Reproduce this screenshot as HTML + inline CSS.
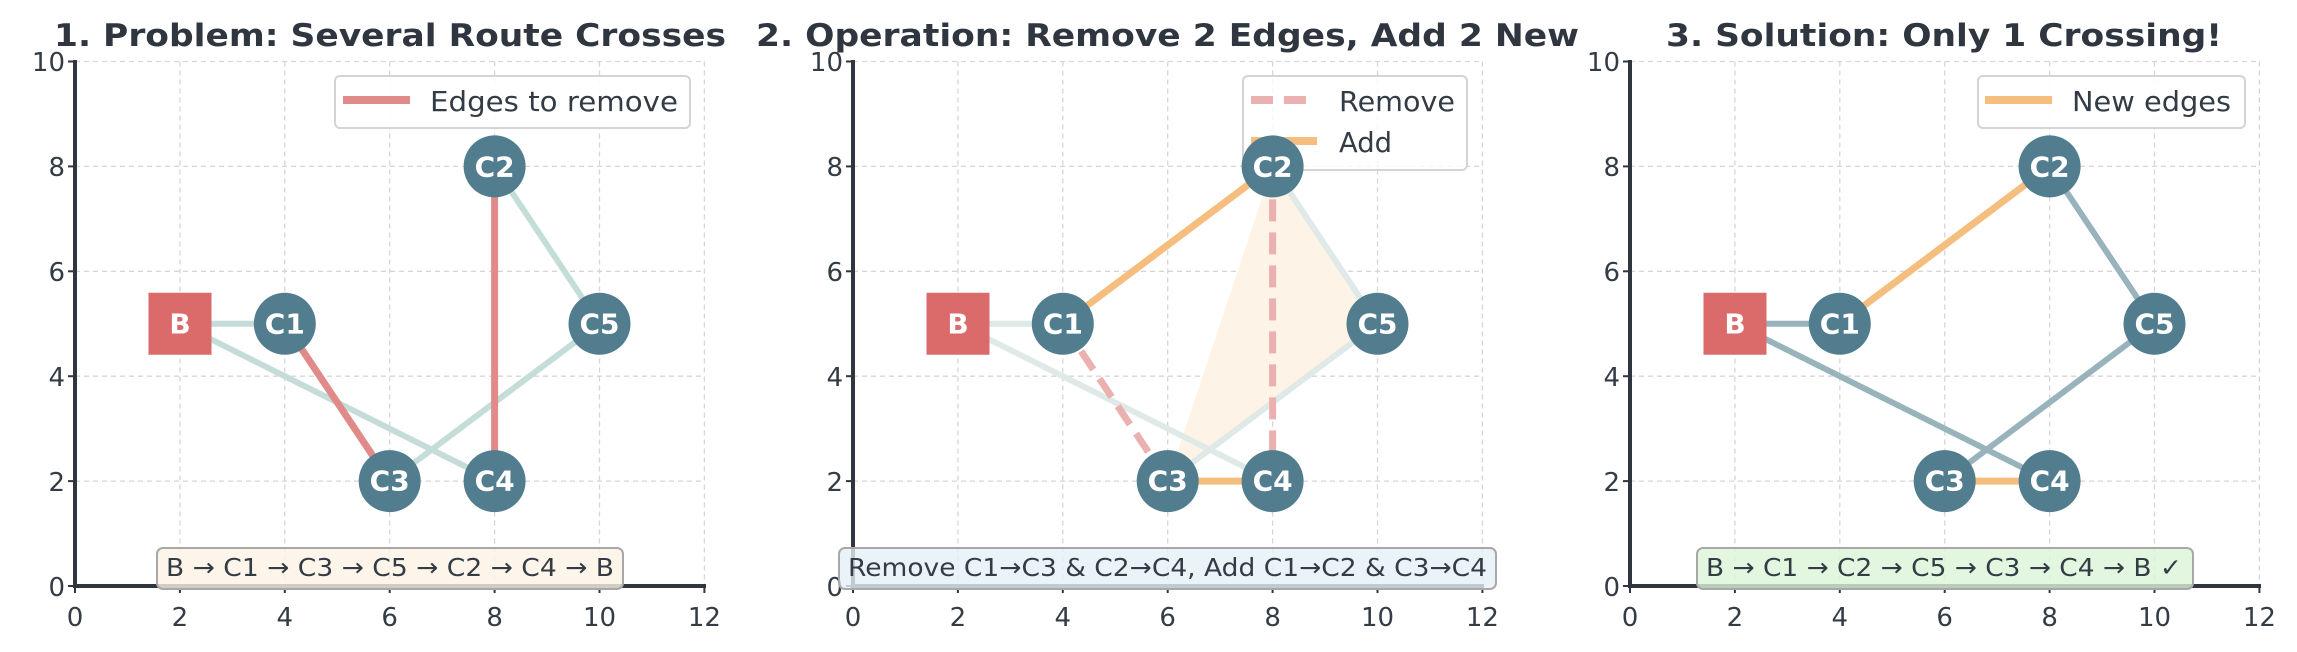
<!DOCTYPE html>
<html><head><meta charset="utf-8"><style>
html,body{margin:0;padding:0;background:#fff;}
svg{display:block;font-family:"DejaVu Sans","Liberation Sans",sans-serif;}
.t{font-weight:bold;font-size:31px;fill:#2f3640;}
.tk{font-size:26px;fill:#333c45;}
.g{stroke:#d6d6d6;stroke-width:1.3;stroke-dasharray:5,4;fill:none;}
.ax{stroke:#2f3640;stroke-width:4;fill:none;}
.tm{stroke:#2f3640;stroke-width:2;}
.nd{fill:#527d8f;}
.nl{font-weight:bold;font-size:28px;fill:#fff;text-anchor:middle;dominant-baseline:central;}
.lg{font-size:28px;fill:#333c45;}
.an{font-size:25px;fill:#333c45;}
</style></head><body>
<svg width="2297" height="652" viewBox="0 0 2297 652" xmlns="http://www.w3.org/2000/svg">
<defs>
<g id="grid">
  <line class="g" x1="104.9" y1="61.5" x2="104.9" y2="586"/>
  <line class="g" x1="209.8" y1="61.5" x2="209.8" y2="586"/>
  <line class="g" x1="314.7" y1="61.5" x2="314.7" y2="586"/>
  <line class="g" x1="419.6" y1="61.5" x2="419.6" y2="586"/>
  <line class="g" x1="524.5" y1="61.5" x2="524.5" y2="586"/>
  <line class="g" x1="629.4" y1="61.5" x2="629.4" y2="586"/>
  <line class="g" x1="0" y1="481.1" x2="629.4" y2="481.1"/>
  <line class="g" x1="0" y1="376.2" x2="629.4" y2="376.2"/>
  <line class="g" x1="0" y1="271.3" x2="629.4" y2="271.3"/>
  <line class="g" x1="0" y1="166.4" x2="629.4" y2="166.4"/>
  <line class="g" x1="0" y1="61.5" x2="629.4" y2="61.5"/>
</g>
<g id="axes">
  <line class="ax" x1="0" y1="60" x2="0" y2="586"/>
  <line class="ax" x1="-2" y1="586" x2="631" y2="586"/>
  <g class="tm">
  <line x1="0" y1="586" x2="0" y2="593"/><line x1="104.9" y1="586" x2="104.9" y2="593"/><line x1="209.8" y1="586" x2="209.8" y2="593"/><line x1="314.7" y1="586" x2="314.7" y2="593"/><line x1="419.6" y1="586" x2="419.6" y2="593"/><line x1="524.5" y1="586" x2="524.5" y2="593"/><line x1="629.4" y1="586" x2="629.4" y2="593"/>
  <line x1="-7" y1="586" x2="0" y2="586"/><line x1="-7" y1="481.1" x2="0" y2="481.1"/><line x1="-7" y1="376.2" x2="0" y2="376.2"/><line x1="-7" y1="271.3" x2="0" y2="271.3"/><line x1="-7" y1="166.4" x2="0" y2="166.4"/><line x1="-7" y1="61.5" x2="0" y2="61.5"/>
  </g>
  <g class="tk" text-anchor="middle">
  <text x="0" y="626">0</text><text x="104.9" y="626">2</text><text x="209.8" y="626">4</text><text x="314.7" y="626">6</text><text x="419.6" y="626">8</text><text x="524.5" y="626">10</text><text x="629.4" y="626">12</text>
  </g>
  <g class="tk" text-anchor="end">
  <text x="-10" y="596">0</text><text x="-10" y="491">2</text><text x="-10" y="386">4</text><text x="-10" y="281">6</text><text x="-10" y="176">8</text><text x="-10" y="71">10</text>
  </g>
</g>
<g id="nodes">
  <rect x="73.5" y="292.75" width="63" height="62" fill="#db6b6b"/>
  <text class="nl" x="105" y="324">B</text>
  <circle class="nd" cx="209.8" cy="323.75" r="31"/><text class="nl" x="209.8" y="324">C1</text>
  <circle class="nd" cx="419.6" cy="166.4" r="31"/><text class="nl" x="419.6" y="167">C2</text>
  <circle class="nd" cx="314.7" cy="481.1" r="31"/><text class="nl" x="314.7" y="481">C3</text>
  <circle class="nd" cx="419.6" cy="481.1" r="31"/><text class="nl" x="419.6" y="481">C4</text>
  <circle class="nd" cx="524.5" cy="323.75" r="31"/><text class="nl" x="524.5" y="324">C5</text>
</g>
</defs>

<text class="t" x="54" y="46" textLength="672" lengthAdjust="spacingAndGlyphs">1. Problem: Several Route Crosses</text>
<text class="t" x="756" y="46" textLength="823" lengthAdjust="spacingAndGlyphs">2. Operation: Remove 2 Edges, Add 2 New</text>
<text class="t" x="1666" y="46" textLength="556" lengthAdjust="spacingAndGlyphs">3. Solution: Only 1 Crossing!</text>

<!-- Panel 1 -->
<g transform="translate(75,0)">
  <use href="#grid"/>
  <g stroke="#c5ddd9" stroke-width="6" fill="none">
    <line x1="104.9" y1="323.75" x2="209.8" y2="323.75"/>
    <line x1="314.7" y1="481.1" x2="524.5" y2="323.75"/>
    <line x1="524.5" y1="323.75" x2="419.6" y2="166.4"/>
    <line x1="419.6" y1="481.1" x2="104.9" y2="323.75"/>
  </g>
  <g stroke="#e08a8a" stroke-width="7">
    <line x1="209.8" y1="323.75" x2="314.7" y2="481.1"/>
    <line x1="419.6" y1="166.4" x2="419.6" y2="481.1"/>
  </g>
  <use href="#nodes"/>
  <rect x="260" y="76" width="355" height="52" rx="5" fill="#fff" fill-opacity="0.9" stroke="#d4d4d4" stroke-width="2"/>
  <line x1="268" y1="100" x2="335" y2="100" stroke="#e08a8a" stroke-width="8"/>
  <text class="lg" x="355" y="111" textLength="248" lengthAdjust="spacingAndGlyphs">Edges to remove</text>
  <use href="#axes"/>
  <rect x="82" y="548" width="466" height="41" rx="6" fill="#fdf3e4" fill-opacity="0.8" stroke="#a8a8a8" stroke-width="2"/>
  <text class="an" x="91" y="576" textLength="448" lengthAdjust="spacingAndGlyphs">B → C1 → C3 → C5 → C2 → C4 → B</text>
</g>

<!-- Panel 2 -->
<g transform="translate(853,0)">
  <use href="#grid"/>
  <polygon points="314.7,481.1 419.6,166.4 524.5,323.75" fill="#fdf3e6"/>
  <g stroke="#dfeae8" stroke-width="6" fill="none">
    <line x1="104.9" y1="323.75" x2="209.8" y2="323.75"/>
    <line x1="314.7" y1="481.1" x2="524.5" y2="323.75"/>
    <line x1="524.5" y1="323.75" x2="419.6" y2="166.4"/>
    <line x1="419.6" y1="481.1" x2="104.9" y2="323.75"/>
  </g>
  <g stroke="#ebb0b0" stroke-width="7" stroke-dasharray="22,11">
    <line x1="209.8" y1="323.75" x2="314.7" y2="481.1"/>
    <line x1="419.6" y1="166.4" x2="419.6" y2="481.1"/>
  </g>
  <g stroke="#f5be7e" stroke-width="7">
    <line x1="209.8" y1="323.75" x2="419.6" y2="166.4"/>
    <line x1="314.7" y1="481.1" x2="419.6" y2="481.1"/>
  </g>
  <rect x="390" y="76" width="224" height="94" rx="5" fill="#fff" fill-opacity="0.8" stroke="#d4d4d4" stroke-width="2"/>
  <line x1="398" y1="100" x2="464" y2="100" stroke="#ebb0b0" stroke-width="8" stroke-dasharray="22,11"/>
  <text class="lg" x="486" y="111" textLength="116" lengthAdjust="spacingAndGlyphs">Remove</text>
  <line x1="398" y1="141" x2="464" y2="141" stroke="#f5be7e" stroke-width="8"/>
  <text class="lg" x="486" y="152" textLength="53" lengthAdjust="spacingAndGlyphs">Add</text>
  <use href="#nodes"/>
  <use href="#axes"/>
  <rect x="-14" y="548" width="657" height="41" rx="6" fill="#e3f0f6" fill-opacity="0.8" stroke="#a8a8a8" stroke-width="2"/>
  <text class="an" x="-5" y="576" textLength="639" lengthAdjust="spacingAndGlyphs">Remove C1→C3 &amp; C2→C4, Add C1→C2 &amp; C3→C4</text>
</g>

<!-- Panel 3 -->
<g transform="translate(1630,0)">
  <use href="#grid"/>
  <g stroke="#98b3bc" stroke-width="6" fill="none">
    <line x1="104.9" y1="323.75" x2="209.8" y2="323.75"/>
    <line x1="314.7" y1="481.1" x2="524.5" y2="323.75"/>
    <line x1="524.5" y1="323.75" x2="419.6" y2="166.4"/>
    <line x1="419.6" y1="481.1" x2="104.9" y2="323.75"/>
  </g>
  <g stroke="#f5be7e" stroke-width="7">
    <line x1="209.8" y1="323.75" x2="419.6" y2="166.4"/>
    <line x1="314.7" y1="481.1" x2="419.6" y2="481.1"/>
  </g>
  <use href="#nodes"/>
  <rect x="348" y="76" width="267" height="52" rx="5" fill="#fff" fill-opacity="0.9" stroke="#d4d4d4" stroke-width="2"/>
  <line x1="355" y1="100" x2="422" y2="100" stroke="#f5be7e" stroke-width="8"/>
  <text class="lg" x="442" y="111" textLength="159" lengthAdjust="spacingAndGlyphs">New edges</text>
  <use href="#axes"/>
  <rect x="67" y="548" width="496" height="41" rx="6" fill="#dcf5d8" fill-opacity="0.8" stroke="#a8a8a8" stroke-width="2"/>
  <text class="an" x="76" y="576" textLength="476" lengthAdjust="spacingAndGlyphs">B → C1 → C2 → C5 → C3 → C4 → B ✓</text>
</g>
</svg>
</body></html>
